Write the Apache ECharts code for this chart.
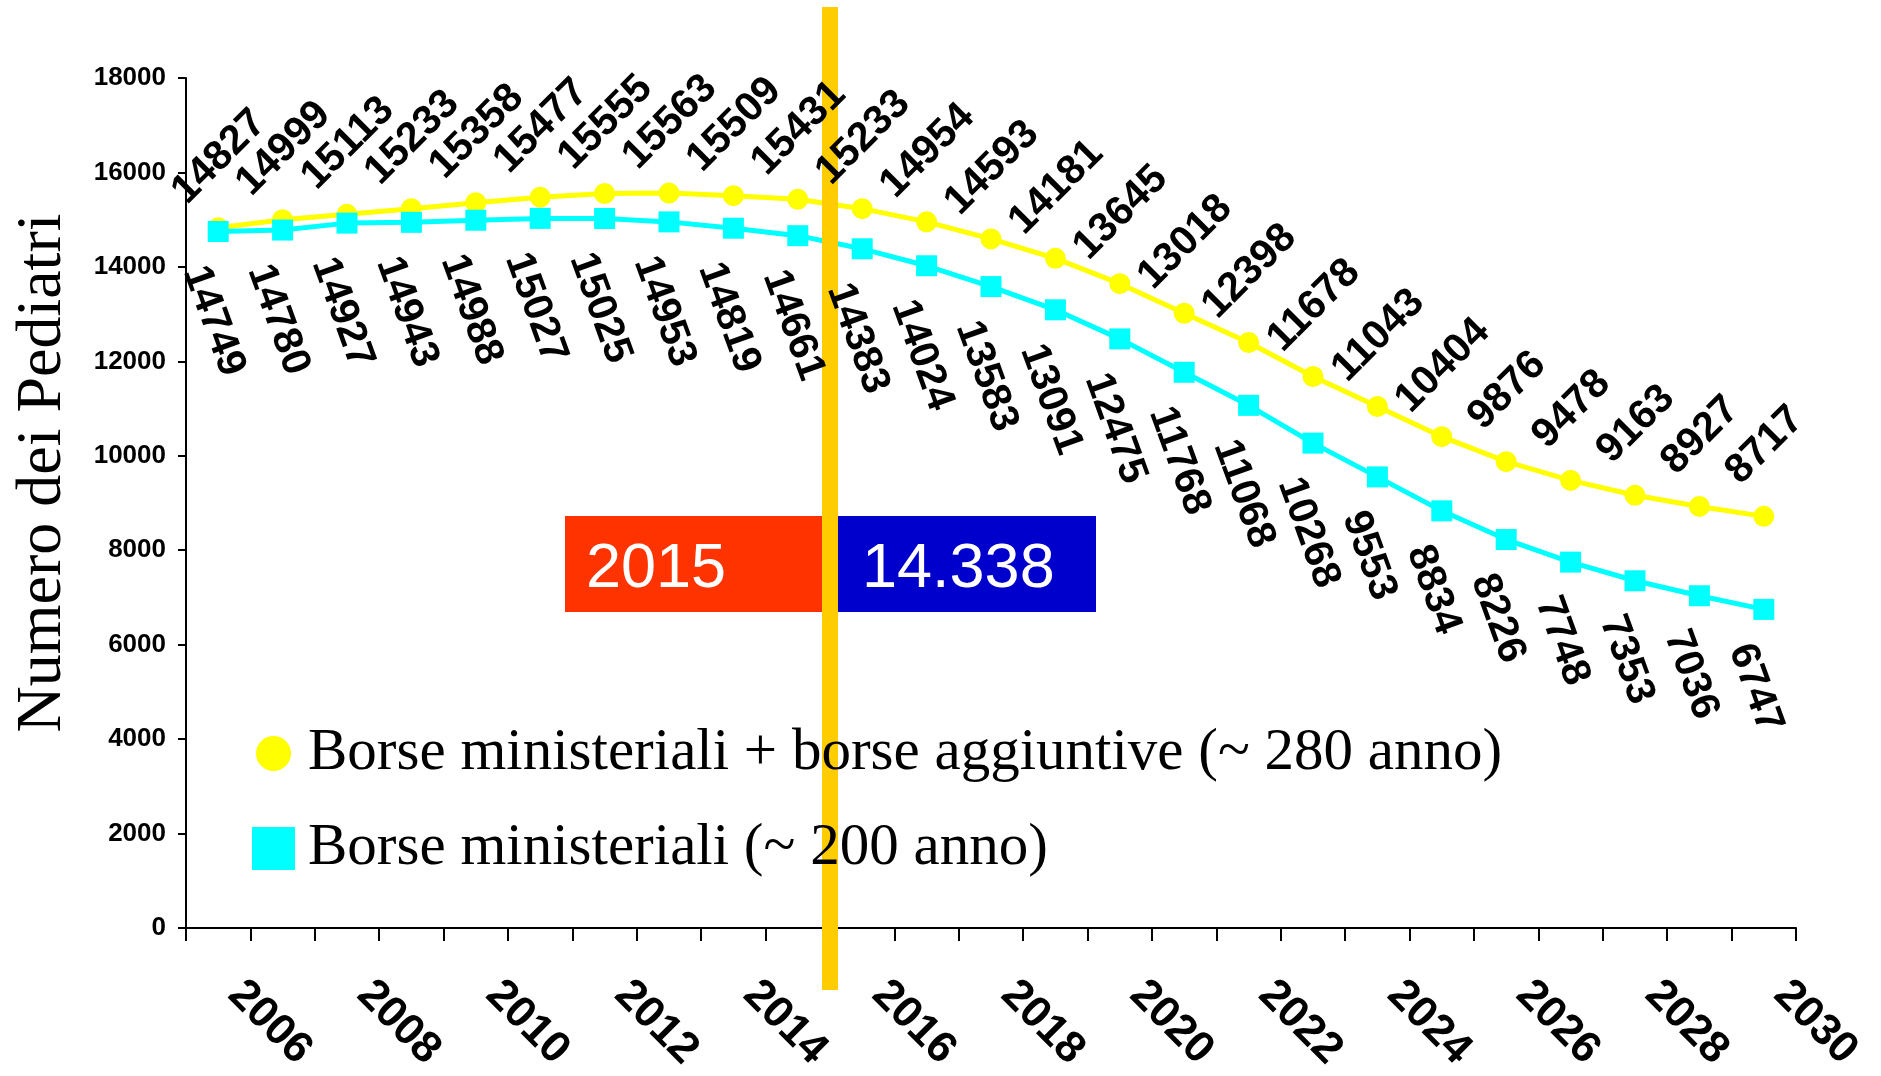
<!DOCTYPE html>
<html><head><meta charset="utf-8">
<script src="https://cdn.jsdelivr.net/npm/echarts@6/dist/echarts.min.js"></script>
<style>html,body{margin:0;padding:0;background:#fff}#c{width:1881px;height:1076px}</style>
</head><body><div id="c"></div>
<script>
const years = ['2006','2007','2008','2009','2010','2011','2012','2013','2014','2015','2016','2017','2018','2019','2020','2021','2022','2023','2024','2025','2026','2027','2028','2029','2030'];
const nameYellow = 'Borse ministeriali + borse aggiuntive (~ 280 anno)';
const nameCyan = 'Borse ministeriali (~ 200 anno)';
const yellowValues = [14827,14999,15113,15233,15358,15477,15555,15563,15509,15431,15233,14954,14593,14181,13645,13018,12398,11678,11043,10404,9876,9478,9163,8927,8717];
const cyanValues = [14749,14780,14927,14943,14988,15027,15025,14953,14819,14661,14383,14024,13583,13091,12475,11768,11068,10268,9553,8834,8226,7748,7353,7036,6747];
const yMin = 0, yMax = 18000, yStep = 2000;
const axisTitle = 'Numero dei Pediatri';
const highlightYear = '2015';
const highlightValue = '14.338';

const chart = echarts.init(document.getElementById('c'), null, {renderer:'canvas'});
const SANS = "'Liberation Sans', Arial, sans-serif";
const SERIF = "'Liberation Serif', 'Times New Roman', serif";
const SYM = 21;

function dataSeries(name, values, color, symbol){
  return {name, type:'line', data: values, z:2, symbol, symbolSize:SYM, showAllSymbol:true,
    lineStyle:{color, width:5}, itemStyle:{color, borderWidth:0},
    label:{show:false}, emphasis:{disabled:true}, animation:false, silent:true};
}
function labelSeries(name, values, labelOpt){
  return {name, type:'line', data: values, z:4, symbol:'circle', symbolSize:SYM, showAllSymbol:true,
    lineStyle:{width:0, opacity:0}, itemStyle:{color:'rgba(0,0,0,0)', borderWidth:0},
    label: Object.assign({show:true, color:'#000', fontFamily:SANS, fontWeight:'bold', fontSize:41}, labelOpt),
    emphasis:{disabled:true}, animation:false, silent:true};
}

chart.setOption({
  animation:false,
  backgroundColor:'#fff',
  grid:{left:186, right:85, top:78, bottom:148, containLabel:false},
  legend:[
    {data:[{name:nameYellow, icon:'circle'}], left:256, top:724, padding:0, itemWidth:35, itemHeight:35, selectedMode:false,
     textStyle:{fontFamily:SERIF, fontSize:59, color:'#000', padding:[0,0,0,12]}},
    {data:[{name:nameCyan, icon:'rect'}], left:252, top:819, padding:0, itemWidth:43, itemHeight:43, selectedMode:false,
     textStyle:{fontFamily:SERIF, fontSize:59, color:'#000', padding:[0,0,0,8]}}
  ],
  xAxis:{type:'category', data:years, boundaryGap:true,
    axisLine:{show:true, lineStyle:{color:'#000', width:2}},
    axisTick:{show:true, interval:0, length:13, lineStyle:{color:'#000', width:2}},
    axisLabel:{interval:1, rotate:-45, margin:43, padding:[0,0,0,24], color:'#000', fontFamily:SANS, fontWeight:'bold', fontSize:44},
    splitLine:{show:false}},
  yAxis:{type:'value', min:yMin, max:yMax, interval:yStep,
    name:axisTitle, nameLocation:'middle', nameGap:111,
    nameTextStyle:{fontFamily:SERIF, fontSize:64, color:'#000', padding:[0,0,0,60]},
    axisLine:{show:true, lineStyle:{color:'#000', width:2}},
    axisTick:{show:true, length:8, lineStyle:{color:'#000', width:2}},
    axisLabel:{margin:20, color:'#000', fontFamily:SANS, fontWeight:'bold', fontSize:26, formatter: v => String(v)},
    splitLine:{show:false}},
  series:[
    dataSeries(nameYellow, yellowValues, '#FFFF00', 'circle'),
    dataSeries(nameCyan, cyanValues, '#00FFFF', 'rect'),
    labelSeries('lblY', yellowValues, {position:[SYM/2+1, SYM/2-71], align:'center', verticalAlign:'middle', rotate:45}),
    labelSeries('lblC', cyanValues, {position:[SYM/2-24, SYM/2+36], align:'left', verticalAlign:'middle', rotate:-70})
  ]
});

const hi = years.indexOf(highlightYear);
const xb = (chart.convertToPixel({xAxisIndex:0}, years[hi]) + chart.convertToPixel({xAxisIndex:0}, years[hi+1])) / 2;
chart.setOption({
  graphic:[
    {type:'rect', z:3, shape:{x:565, y:516, width:258, height:96}, style:{fill:'#FF3300'}},
    {type:'rect', z:3, shape:{x:838, y:516, width:258, height:96}, style:{fill:'#0000CC'}},
    {type:'text', z:3, x:586, y:570, style:{text:highlightYear, fill:'#fff', font:"63px 'Liberation Sans', Arial, sans-serif", textVerticalAlign:'middle', verticalAlign:'middle'}},
    {type:'text', z:3, x:862, y:570, style:{text:highlightValue, fill:'#fff', font:"63px 'Liberation Sans', Arial, sans-serif", textVerticalAlign:'middle', verticalAlign:'middle'}},
    {type:'rect', z:3.5, shape:{x:xb-8, y:7, width:16, height:983}, style:{fill:'#FFCC00'}}
  ]
});
</script></body></html>
